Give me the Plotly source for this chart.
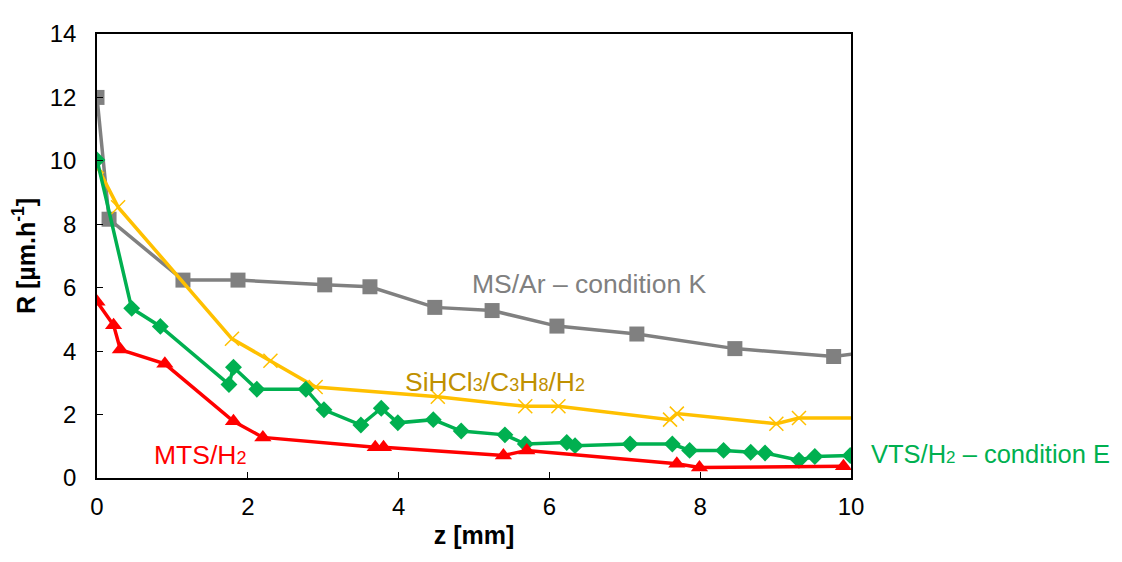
import plotly.graph_objects as go

# MS/Ar – condition K
ms_z = [0.0, 0.16, 1.14, 1.87, 3.02, 3.62, 4.48, 5.24, 6.10, 7.16, 8.46, 9.77, 10.2]
ms_r = [12.0, 8.16, 6.24, 6.24, 6.09, 6.03, 5.38, 5.28, 4.79, 4.54, 4.08, 3.83, 3.96]

# SiHCl3/C3H8/H2
si_z = [0.0, 0.28, 1.79, 2.30, 2.90, 4.52, 5.68, 6.12, 7.60, 7.69, 9.01, 9.31, 10.2]
si_r = [9.83, 8.54, 4.39, 3.70, 2.87, 2.56, 2.26, 2.26, 1.84, 2.03, 1.71, 1.89, 1.89]

# VTS/H2 – condition E
vts_z = [0.0, 0.46, 0.84, 1.75, 1.81, 2.12, 2.77, 3.01, 3.50, 3.77, 3.99, 4.46, 4.83,
         5.41, 5.68, 6.23, 6.34, 7.07, 7.63, 7.86, 8.31, 8.67, 8.86, 9.31, 9.52, 9.99]
vts_r = [10.03, 5.35, 4.78, 2.95, 3.49, 2.80, 2.80, 2.15, 1.67, 2.20, 1.74, 1.84, 1.48,
         1.36, 1.07, 1.12, 1.02, 1.07, 1.07, 0.87, 0.87, 0.81, 0.79, 0.56, 0.68, 0.71]

# MTS/H2
mts_z = [0.0, 0.22, 0.31, 0.90, 1.81, 2.20, 3.69, 3.80, 5.39, 5.70, 7.69, 7.99, 9.90]
mts_r = [5.56, 4.82, 4.05, 3.60, 1.79, 1.28, 0.97, 0.97, 0.71, 0.87, 0.45, 0.33, 0.37]

x_ticks = [0, 2, 4, 6, 8, 10]
y_ticks = [0, 2, 4, 6, 8, 10, 12, 14]

FONT = "Liberation Sans, Arial, sans-serif"
GRAY, GOLD, GOLD_TXT, GREEN, RED = "#808080", "#FFC000", "#BF9000", "#00B050", "#FF0000"


def sub(s, px=18):
    return '<span style="font-size:%dpx">%s</span>' % (px, s)


fig = go.Figure()
fig.add_trace(go.Scatter(x=ms_z, y=ms_r, mode="lines+markers", name="MS/Ar",
                         line=dict(color=GRAY, width=3.5),
                         marker=dict(symbol="square", size=15, color=GRAY)))
fig.add_trace(go.Scatter(x=si_z, y=si_r, mode="lines+markers", name="SiHCl3",
                         line=dict(color=GOLD, width=3.5),
                         marker=dict(symbol="x-thin", size=14, color=GOLD,
                                     line=dict(color=GOLD, width=1.5))))
fig.add_trace(go.Scatter(x=vts_z, y=vts_r, mode="lines+markers", name="VTS",
                         line=dict(color=GREEN, width=3.5),
                         marker=dict(symbol="diamond", size=13, color=GREEN)))
fig.add_trace(go.Scatter(x=mts_z, y=mts_r, mode="lines+markers", name="MTS",
                         line=dict(color=RED, width=3.5),
                         marker=dict(symbol="triangle-up", size=15, color=RED)))

ann_font = 26.5
annotations = [
    dict(x=6.53, y=6.12, xref="x", text="MS/Ar – condition K",
         font=dict(color=GRAY, size=ann_font)),
    dict(x=5.28, y=3.03, xref="x",
         text="SiHCl" + sub("3") + "/C" + sub("3") + "H" + sub("8") + "/H" + sub("2"),
         font=dict(color=GOLD_TXT, size=ann_font)),
    dict(x=1.37, y=0.71, xref="x", text="MTS/H" + sub("2"),
         font=dict(color=RED, size=ann_font)),
    dict(x=1.024, y=0.77, xref="paper", text="VTS/H" + sub("2", 17) + " – condition E",
         xanchor="left", font=dict(color=GREEN, size=25.5)),
]
for a in annotations:
    a.update(yref="y", showarrow=False)
    a.setdefault("xanchor", "center")

# page body has an 8px margin, so the figure is shifted by 8px
fig.update_layout(
    width=1122, height=554,
    margin=dict(l=89, r=279, t=17, b=84),
    paper_bgcolor="white", plot_bgcolor="white",
    showlegend=False,
    font=dict(family=FONT, size=24, color="black"),
    annotations=annotations,
    xaxis=dict(range=[0, 10], tickvals=x_ticks, showgrid=False, zeroline=False,
               showline=True, mirror=True, linecolor="black", linewidth=1.5,
               ticks="inside", ticklen=6, tickcolor="black", ticklabelstandoff=6,
               title=dict(text="<b>z [mm]</b>", standoff=8, font=dict(size=25))),
    yaxis=dict(range=[0, 14], tickvals=y_ticks, showgrid=False, zeroline=False,
               showline=True, mirror=True, linecolor="black", linewidth=1.5,
               ticks="inside", ticklen=6, tickcolor="black", ticklabelstandoff=14,
               title=dict(text="<b>R [µm.h<sup>-1</sup>]</b>", standoff=10, font=dict(size=25))),
)

fig.write_html("out.html")
